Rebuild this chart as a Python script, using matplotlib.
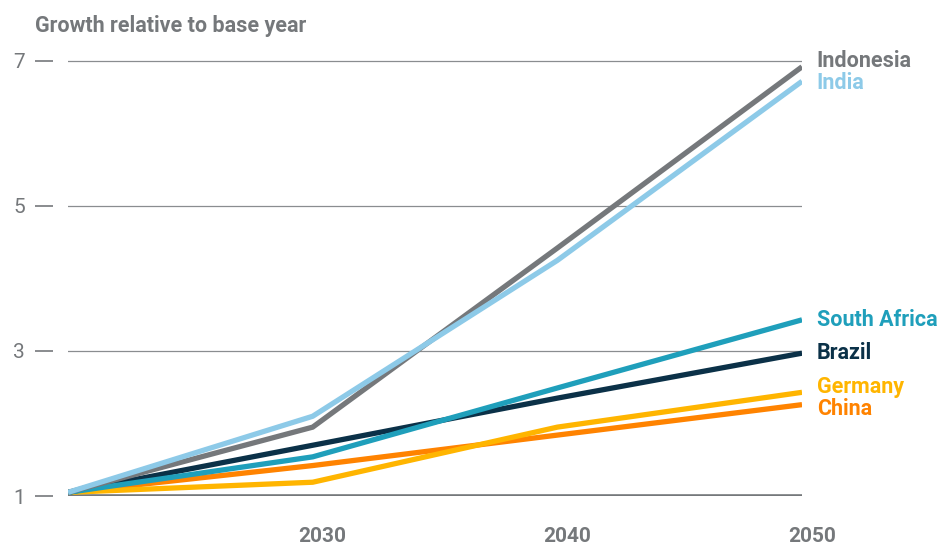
import matplotlib.pyplot as plt
from matplotlib.transforms import ScaledTranslation

years = [2020, 2030, 2040, 2050]
countries = ['Indonesia', 'India', 'South Africa', 'Brazil', 'Germany', 'China']
indonesia = [1.05, 1.95, 4.42, 6.92]
india = [1.05, 2.10, 4.25, 6.72]
south_africa = [1.05, 1.54, 2.49, 3.43]
brazil = [1.05, 1.70, 2.35, 2.97]
germany = [1.05, 1.19, 1.95, 2.43]
china = [1.05, 1.42, 1.84, 2.26]
label_y = [7.0, 6.70, 3.43, 2.97, 2.50, 2.20]
colors = ['#75787b', '#8dcae8', '#1f9fbb', '#0b3148', '#ffb500', '#ff8300']

series = [indonesia, india, south_africa, brazil, germany, china]
grey = '#75787b'

plt.rcParams['font.family'] = ['Roboto', 'DejaVu Sans']

fig = plt.figure(figsize=(9.41, 5.45), dpi=100)
ax = fig.add_axes([0.0723, 0.0899, 0.78, 0.8115])

for v in [3, 5, 7]:
    ax.axhline(v, color='#8a8d90', lw=0.9, zorder=1)
ax.axhline(1, color=grey, lw=2.6, zorder=1)

draw_order = [5, 4, 3, 2, 0, 1]
for i in draw_order:
    ax.plot(years, series[i], color=colors[i], lw=3.8, solid_capstyle='butt',
            solid_joinstyle='miter', zorder=3)

for name, y, c in zip(countries, label_y, colors):
    ax.text(2050.6, y, name, color=c, fontsize=15.5, fontweight='bold',
            va='center', ha='left', clip_on=False)

ax.set_xlim(2020, 2050)
ax.set_ylim(1, 7.1)
ax.set_yticks([1, 3, 5, 7])
ax.set_yticklabels(['1', '3', '5', '7'])
ax.set_xticks([2030, 2040, 2050])
ax.set_xticklabels(['2030', '2040', '2050'], fontweight='bold')
ax.tick_params(axis='y', length=13, width=1.2, color=grey, pad=18,
               labelsize=15, labelcolor=grey, direction='out')
ax.tick_params(axis='x', length=0, pad=22, labelsize=15, labelcolor=grey)
for s in ax.spines.values():
    s.set_visible(False)

# tick dashes sit apart from the gridlines
for t in ax.yaxis.get_major_ticks():
    t.tick1line.set_transform(t.tick1line.get_transform() +
                              ScaledTranslation(-0.15, 0, fig.dpi_scale_trans))
for lbl in ax.get_xticklabels():
    lbl.set_transform(lbl.get_transform() +
                      ScaledTranslation(0.1, 0, fig.dpi_scale_trans))

fig.text(0.037, 0.952, 'Growth relative to base year', color=grey,
         fontsize=15.5, fontweight='bold', va='center', ha='left')

fig.savefig('out.png', dpi=100, facecolor='white')
